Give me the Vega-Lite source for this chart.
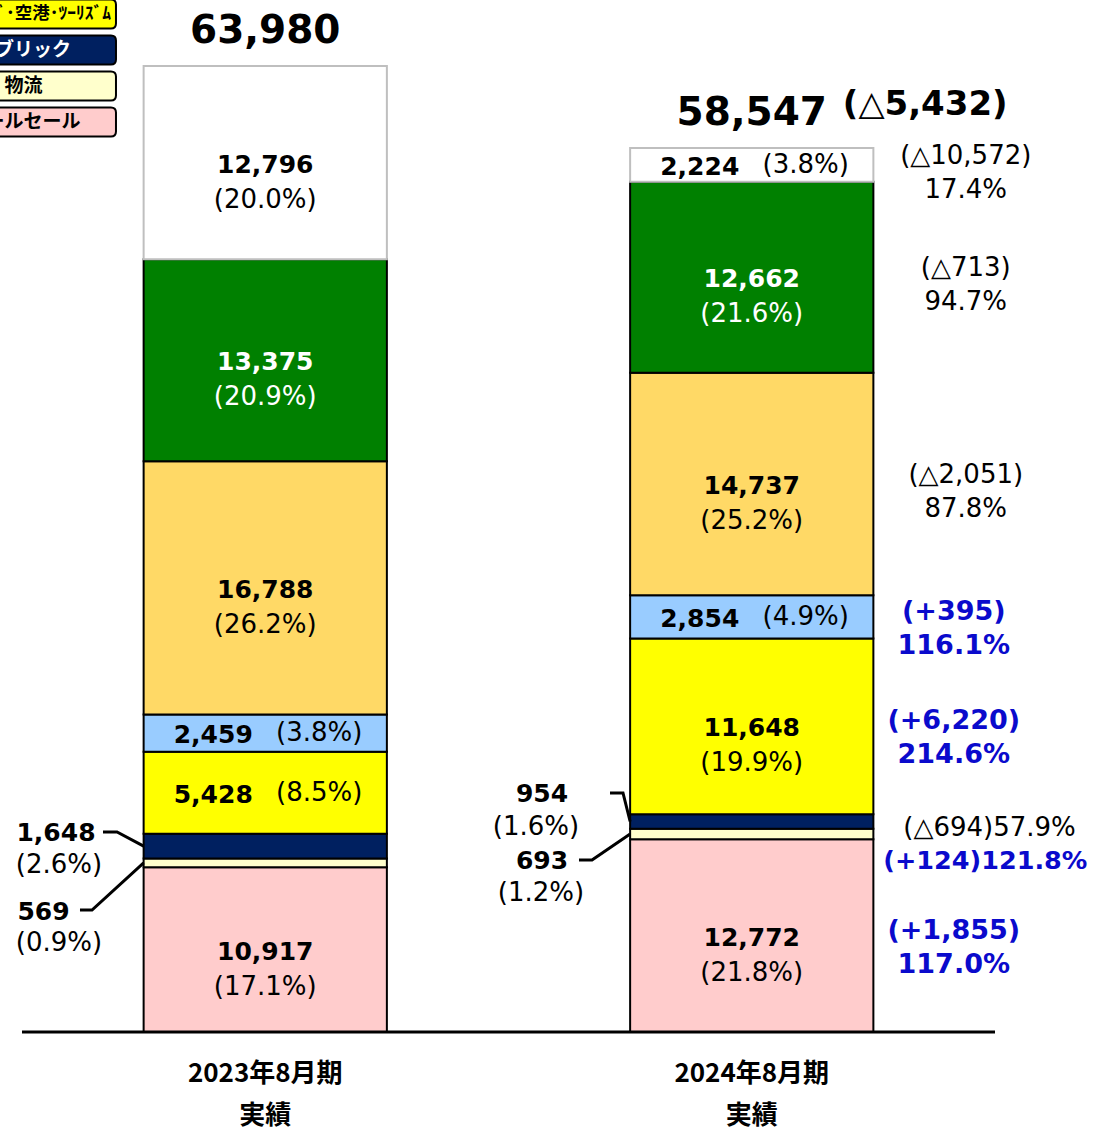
{
  "$schema": "https://vega.github.io/schema/vega-lite/v6.json",
  "width": 973,
  "height": 1032,
  "autosize": "none",
  "padding": {"left": 22, "top": 0, "right": 98, "bottom": 98},
  "background": "white",
  "config": {"view": {"stroke": null}, "text": {"font": "DejaVu Sans"}},
  "datasets": {
    "main": [
      {"period": "2023年8月期", "cat": "ホールセール", "value": 10917, "share": 17.1},
      {"period": "2023年8月期", "cat": "物流", "value": 569, "share": 0.9},
      {"period": "2023年8月期", "cat": "パブリック", "value": 1648, "share": 2.6},
      {"period": "2023年8月期", "cat": "ﾎﾃﾙ･ﾌｰﾄﾞ･空港･ﾂｰﾘｽﾞﾑ", "value": 5428, "share": 8.5},
      {"period": "2023年8月期", "cat": "オフィス", "value": 2459, "share": 3.8},
      {"period": "2023年8月期", "cat": "製造", "value": 16788, "share": 26.2},
      {"period": "2023年8月期", "cat": "流通", "value": 13375, "share": 20.9},
      {"period": "2023年8月期", "cat": "その他", "value": 12796, "share": 20.0},
      {"period": "2024年8月期", "cat": "ホールセール", "value": 12772, "share": 21.8, "diff": 1855, "ratio": 117.0},
      {"period": "2024年8月期", "cat": "物流", "value": 693, "share": 1.2, "diff": 124, "ratio": 121.8},
      {"period": "2024年8月期", "cat": "パブリック", "value": 954, "share": 1.6, "diff": -694, "ratio": 57.9},
      {"period": "2024年8月期", "cat": "ﾎﾃﾙ･ﾌｰﾄﾞ･空港･ﾂｰﾘｽﾞﾑ", "value": 11648, "share": 19.9, "diff": 6220, "ratio": 214.6},
      {"period": "2024年8月期", "cat": "オフィス", "value": 2854, "share": 4.9, "diff": 395, "ratio": 116.1},
      {"period": "2024年8月期", "cat": "製造", "value": 14737, "share": 25.2, "diff": -2051, "ratio": 87.8},
      {"period": "2024年8月期", "cat": "流通", "value": 12662, "share": 21.6, "diff": -713, "ratio": 94.7},
      {"period": "2024年8月期", "cat": "その他", "value": 2224, "share": 3.8, "diff": -10572, "ratio": 17.4}
    ],
    "totals": [
      {"period": "2023年8月期", "total": 63980},
      {"period": "2024年8月期", "total": 58547, "change": -5432}
    ],
    "callouts": [
      {"id": "2023年8月期|パブリック", "vx": 0.1398, "vy": 13180, "px": 0.1521, "py": 11060},
      {"id": "2023年8月期|物流", "vx": 0.0884, "vy": 7948, "px": 0.1521, "py": 5894},
      {"id": "2024年8月期|パブリック", "vx": 2.1377, "vy": 15763, "px": 2.1131, "py": 13577},
      {"id": "2024年8月期|物流", "vx": 2.1377, "vy": 11325, "px": 2.1336, "py": 9206}
    ],
    "leaders": [
      {"id": "a", "seq": 0, "lx": 0.333, "ly": 13246},
      {"id": "a", "seq": 1, "lx": 0.3906, "ly": 13246},
      {"id": "a", "seq": 2, "lx": 0.5, "ly": 12310},
      {"id": "b", "seq": 0, "lx": 0.2384, "ly": 8080},
      {"id": "b", "seq": 1, "lx": 0.2878, "ly": 8080},
      {"id": "b", "seq": 2, "lx": 0.5, "ly": 11201},
      {"id": "c", "seq": 0, "lx": 2.4173, "ly": 15829},
      {"id": "c", "seq": 1, "lx": 2.4707, "ly": 15829},
      {"id": "c", "seq": 2, "lx": 2.5, "ly": 13942},
      {"id": "d", "seq": 0, "lx": 2.2898, "ly": 11391},
      {"id": "d", "seq": 1, "lx": 2.3433, "ly": 11391},
      {"id": "d", "seq": 2, "lx": 2.5, "ly": 13118}
    ]
  },
  "layer": [
    {
      "data": {"name": "main"},
      "transform": [
        {"calculate": "indexof(['ホールセール','物流','パブリック','ﾎﾃﾙ･ﾌｰﾄﾞ･空港･ﾂｰﾘｽﾞﾑ','オフィス','製造','流通','その他'], datum.cat)", "as": "ord"},
        {"calculate": "datum.period === '2023年8月期' ? 1 : 3", "as": "slot"},
        {"stack": "value", "groupby": ["period"], "sort": [{"field": "ord", "order": "ascending"}], "as": ["y0", "y1"]},
        {"calculate": "(datum.y0 + datum.y1) / 2", "as": "ymid"},
        {"calculate": "datum.slot - 0.5", "as": "xa"},
        {"calculate": "datum.slot + 0.5", "as": "xb"},
        {"calculate": "format(datum.value, ',')", "as": "vlab"},
        {"calculate": "'(' + format(datum.share, '.1f') + '%)'", "as": "plab"},
        {"calculate": "isValid(datum.diff) ? (datum.diff < 0 ? '(△' + format(-datum.diff, ',') + ')' : '(+' + format(datum.diff, ',') + ')') : ''", "as": "dlab"},
        {"calculate": "isValid(datum.ratio) ? format(datum.ratio, '.1f') + '%' : ''", "as": "rlab"},
        {"calculate": "datum.dlab + '\\n' + datum.rlab", "as": "rtxt"},
        {"calculate": "datum.dlab + datum.rlab", "as": "rone"},
        {"calculate": "datum.period + '|' + datum.cat", "as": "key"}
      ],
      "layer": [
        {
          "mark": {"type": "bar", "strokeWidth": 2},
          "encoding": {
            "x": {"field": "xa", "type": "quantitative", "scale": {"domain": [0, 4], "nice": false, "zero": false}, "axis": null},
            "x2": {"field": "xb"},
            "y": {"field": "y0", "type": "quantitative", "scale": {"domain": [0, 68350], "nice": false, "zero": false}, "axis": null},
            "y2": {"field": "y1"},
            "fill": {
              "field": "cat", "type": "nominal",
              "scale": {
                "domain": ["ホールセール", "物流", "パブリック", "ﾎﾃﾙ･ﾌｰﾄﾞ･空港･ﾂｰﾘｽﾞﾑ", "オフィス", "製造", "流通", "その他"],
                "range": ["#FFCCCC", "#FFFFCC", "#002060", "#FFFF00", "#99CCFF", "#FFD966", "#008000", "#FFFFFF"]
              },
              "legend": {
                "values": ["ﾎﾃﾙ･ﾌｰﾄﾞ･空港･ﾂｰﾘｽﾞﾑ", "パブリック", "物流", "ホールセール"],
                "orient": "none", "legendX": -16.5, "legendY": -1, "title": null, "padding": 0,
                "symbolType": "M-6.46,-1.036 L6.46,-1.036 Q6.82,-1.036 6.82,-0.676 L6.82,0.676 Q6.82,1.036 6.46,1.036 L-6.46,1.036 Q-6.82,1.036 -6.82,0.676 L-6.82,-0.676 Q-6.82,-1.036 -6.46,-1.036 Z",
                "symbolSize": 784, "symbolStrokeColor": "black", "symbolStrokeWidth": 2, "symbolOpacity": 1,
                "labelOffset": -12, "labelAlign": "center", "labelFont": "Noto Sans CJK JP", "labelFontWeight": "bold", "labelFontSize": 19, "labelLimit": 500, "rowPadding": -2,
                "encode": {"labels": {"update": {
                  "fill": {"signal": "datum.value === 'パブリック' ? 'white' : 'black'"},
                  "fontSize": {"signal": "datum.value === 'ﾎﾃﾙ･ﾌｰﾄﾞ･空港･ﾂｰﾘｽﾞﾑ' ? 17.5 : 19"}
                }}}
              }
            },
            "stroke": {"condition": {"test": "datum.cat === 'その他'", "value": "#BFBFBF"}, "value": "black"}
          }
        },
        {
          "transform": [{"filter": "datum.value >= 6000"}],
          "mark": {"type": "text", "fontWeight": "bold", "fontSize": 25, "baseline": "middle", "dy": 2},
          "encoding": {
            "x": {"field": "slot", "type": "quantitative", "scale": {"domain": [0, 4], "nice": false, "zero": false}, "axis": null},
            "y": {"field": "ymid", "type": "quantitative", "scale": {"domain": [0, 68350], "nice": false, "zero": false}, "axis": null},
            "text": {"field": "vlab"},
            "fill": {"condition": {"test": "datum.cat === '流通'", "value": "white"}, "value": "black"}
          }
        },
        {
          "transform": [{"filter": "datum.value >= 6000"}],
          "mark": {"type": "text", "fontSize": 26, "baseline": "middle", "dy": 37},
          "encoding": {
            "x": {"field": "slot", "type": "quantitative", "scale": {"domain": [0, 4], "nice": false, "zero": false}, "axis": null},
            "y": {"field": "ymid", "type": "quantitative", "scale": {"domain": [0, 68350], "nice": false, "zero": false}, "axis": null},
            "text": {"field": "plab"},
            "fill": {"condition": {"test": "datum.cat === '流通'", "value": "white"}, "value": "black"}
          }
        },
        {
          "transform": [{"filter": "datum.value >= 2000 && datum.value < 6000"}],
          "mark": {"type": "text", "fontWeight": "bold", "fontSize": 25, "baseline": "middle", "dx": -52, "dy": 2, "fill": "black"},
          "encoding": {
            "x": {"field": "slot", "type": "quantitative", "scale": {"domain": [0, 4], "nice": false, "zero": false}, "axis": null},
            "y": {"field": "ymid", "type": "quantitative", "scale": {"domain": [0, 68350], "nice": false, "zero": false}, "axis": null},
            "text": {"field": "vlab"}
          }
        },
        {
          "transform": [{"filter": "datum.value >= 2000 && datum.value < 6000"}],
          "mark": {"type": "text", "fontSize": 26, "baseline": "middle", "dx": 54, "dy": 0, "fill": "black"},
          "encoding": {
            "x": {"field": "slot", "type": "quantitative", "scale": {"domain": [0, 4], "nice": false, "zero": false}, "axis": null},
            "y": {"field": "ymid", "type": "quantitative", "scale": {"domain": [0, 68350], "nice": false, "zero": false}, "axis": null},
            "text": {"field": "plab"}
          }
        },
        {
          "transform": [{"filter": "isValid(datum.diff) && datum.diff < 0 && datum.value >= 2000"}],
          "mark": {"type": "text", "fontSize": 26, "baseline": "middle", "lineBreak": "\n", "lineHeight": 34, "dx": 214, "dy": -9, "fill": "black"},
          "encoding": {
            "x": {"field": "slot", "type": "quantitative", "scale": {"domain": [0, 4], "nice": false, "zero": false}, "axis": null},
            "y": {"field": "ymid", "type": "quantitative", "scale": {"domain": [0, 68350], "nice": false, "zero": false}, "axis": null},
            "text": {"field": "rtxt"}
          }
        },
        {
          "transform": [{"filter": "isValid(datum.diff) && datum.diff > 0 && datum.value >= 2000"}],
          "mark": {"type": "text", "fontSize": 27, "fontWeight": "bold", "baseline": "middle", "lineBreak": "\n", "lineHeight": 34, "dx": 202, "dy": -5, "fill": "#0A0ACC"},
          "encoding": {
            "x": {"field": "slot", "type": "quantitative", "scale": {"domain": [0, 4], "nice": false, "zero": false}, "axis": null},
            "y": {"field": "ymid", "type": "quantitative", "scale": {"domain": [0, 68350], "nice": false, "zero": false}, "axis": null},
            "text": {"field": "rtxt"}
          }
        },
        {
          "transform": [{"filter": "isValid(datum.diff) && datum.cat === 'パブリック'"}],
          "mark": {"type": "text", "fontSize": 26, "baseline": "middle", "align": "left", "dx": 151.5, "dy": 6.5, "fill": "black"},
          "encoding": {
            "x": {"field": "slot", "type": "quantitative", "scale": {"domain": [0, 4], "nice": false, "zero": false}, "axis": null},
            "y": {"field": "ymid", "type": "quantitative", "scale": {"domain": [0, 68350], "nice": false, "zero": false}, "axis": null},
            "text": {"field": "rone"}
          }
        },
        {
          "transform": [{"filter": "isValid(datum.diff) && datum.cat === '物流'"}],
          "mark": {"type": "text", "fontSize": 25.5, "fontWeight": "bold", "baseline": "middle", "align": "left", "dx": 131.5, "dy": 27.5, "fill": "#0A0ACC"},
          "encoding": {
            "x": {"field": "slot", "type": "quantitative", "scale": {"domain": [0, 4], "nice": false, "zero": false}, "axis": null},
            "y": {"field": "ymid", "type": "quantitative", "scale": {"domain": [0, 68350], "nice": false, "zero": false}, "axis": null},
            "text": {"field": "rone"}
          }
        },
        {
          "transform": [
            {"lookup": "key", "from": {"data": {"name": "callouts"}, "key": "id", "fields": ["vx", "vy", "px", "py"]}},
            {"filter": "isValid(datum.vx)"}
          ],
          "mark": {"type": "text", "fontWeight": "bold", "fontSize": 25, "baseline": "middle", "fill": "black"},
          "encoding": {
            "x": {"field": "vx", "type": "quantitative", "scale": {"domain": [0, 4], "nice": false, "zero": false}, "axis": null},
            "y": {"field": "vy", "type": "quantitative", "scale": {"domain": [0, 68350], "nice": false, "zero": false}, "axis": null},
            "text": {"field": "vlab"}
          }
        },
        {
          "transform": [
            {"lookup": "key", "from": {"data": {"name": "callouts"}, "key": "id", "fields": ["vx", "vy", "px", "py"]}},
            {"filter": "isValid(datum.px)"}
          ],
          "mark": {"type": "text", "fontSize": 26, "baseline": "middle", "fill": "black"},
          "encoding": {
            "x": {"field": "px", "type": "quantitative", "scale": {"domain": [0, 4], "nice": false, "zero": false}, "axis": null},
            "y": {"field": "py", "type": "quantitative", "scale": {"domain": [0, 68350], "nice": false, "zero": false}, "axis": null},
            "text": {"field": "plab"}
          }
        }
      ]
    },
    {
      "data": {"values": [{}]},
      "mark": {"type": "rule", "stroke": "black", "strokeWidth": 3},
      "encoding": {
        "y": {"datum": 0, "type": "quantitative", "scale": {"domain": [0, 68350], "nice": false, "zero": false}, "axis": null}
      }
    },
    {
      "data": {"name": "totals"},
      "transform": [
        {"calculate": "datum.period === '2023年8月期' ? 1 : 3", "as": "slot"},
        {"calculate": "datum.period + '\\n実績'", "as": "xlab"}
      ],
      "mark": {"type": "text", "font": "Noto Sans CJK JP", "fontWeight": "bold", "fontSize": 26, "baseline": "middle", "lineBreak": "\n", "lineHeight": 42, "dy": 42, "fill": "black"},
      "encoding": {
        "x": {"field": "slot", "type": "quantitative", "scale": {"domain": [0, 4], "nice": false, "zero": false}, "axis": null},
        "y": {"datum": 0, "type": "quantitative", "scale": {"domain": [0, 68350], "nice": false, "zero": false}, "axis": null},
        "text": {"field": "xlab"}
      }
    },
    {
      "data": {"name": "totals"},
      "transform": [
        {"calculate": "datum.period === '2023年8月期' ? 1 : 3", "as": "slot"},
        {"calculate": "format(datum.total, ',')", "as": "tlab"}
      ],
      "mark": {"type": "text", "fontWeight": "bold", "fontSize": 39, "baseline": "middle", "dy": -35, "fill": "black"},
      "encoding": {
        "x": {"field": "slot", "type": "quantitative", "scale": {"domain": [0, 4], "nice": false, "zero": false}, "axis": null},
        "y": {"field": "total", "type": "quantitative", "scale": {"domain": [0, 68350], "nice": false, "zero": false}, "axis": null},
        "text": {"field": "tlab"}
      }
    },
    {
      "data": {"name": "totals"},
      "transform": [
        {"filter": "isValid(datum.change)"},
        {"calculate": "datum.period === '2023年8月期' ? 1 : 3", "as": "slot"},
        {"calculate": "datum.change < 0 ? '(△' + format(-datum.change, ',') + ')' : '(+' + format(datum.change, ',') + ')'", "as": "clab"}
      ],
      "mark": {"type": "text", "fontWeight": "bold", "fontSize": 34, "baseline": "middle", "dx": 173.5, "dy": -43, "fill": "black"},
      "encoding": {
        "x": {"field": "slot", "type": "quantitative", "scale": {"domain": [0, 4], "nice": false, "zero": false}, "axis": null},
        "y": {"field": "total", "type": "quantitative", "scale": {"domain": [0, 68350], "nice": false, "zero": false}, "axis": null},
        "text": {"field": "clab"}
      }
    },
    {
      "data": {"name": "leaders"},
      "mark": {"type": "line", "stroke": "black", "strokeWidth": 3},
      "encoding": {
        "x": {"field": "lx", "type": "quantitative", "scale": {"domain": [0, 4], "nice": false, "zero": false}, "axis": null},
        "y": {"field": "ly", "type": "quantitative", "scale": {"domain": [0, 68350], "nice": false, "zero": false}, "axis": null},
        "detail": {"field": "id"},
        "order": {"field": "seq"}
      }
    }
  ]
}
